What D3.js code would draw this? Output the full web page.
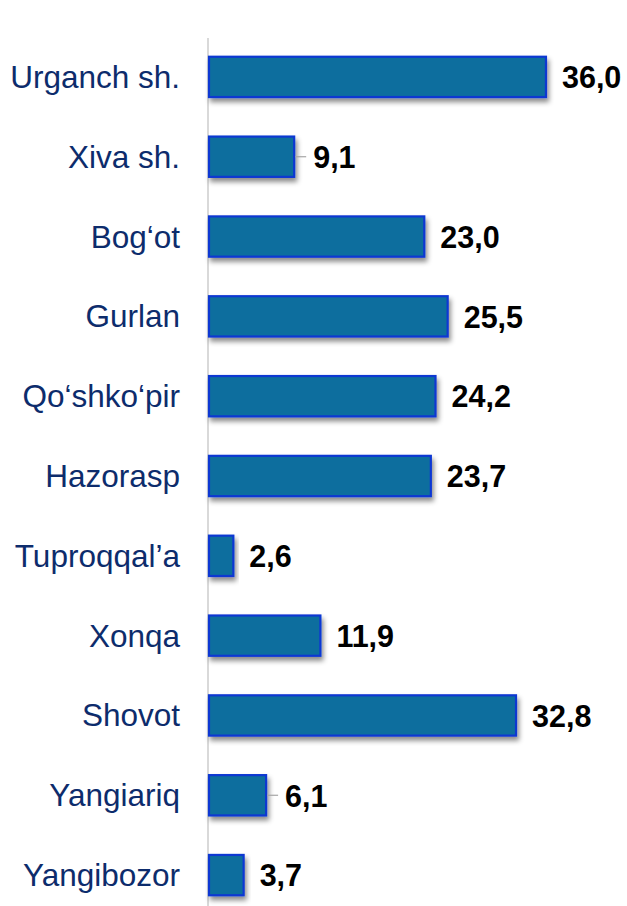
<!DOCTYPE html>
<html>
<head>
<meta charset="utf-8">
<script src="https://cdn.jsdelivr.net/npm/d3@7"></script>
<style>
  body { margin: 0; background: #fff; }
  svg { display: block; }
</style>
</head>
<body>
<script>
var width = 627,
    height = 906;

var districts = ["Urganch sh.", "Xiva sh.", "Bog\u2018ot", "Gurlan", "Qo\u2018shko\u2018pir", "Hazorasp",
                 "Tuproqqal\u2019a", "Xonqa", "Shovot", "Yangiariq", "Yangibozor"];
var values = [36.0, 9.1, 23.0, 25.5, 24.2, 23.7, 2.6, 11.9, 32.8, 6.1, 3.7];

// labels that excel pushed a bit and drew a leader line for
var leaders = ["Xiva sh.", "Yangiariq"];

var data = districts.map(function(d, i) { return {name: d, value: values[i]}; });

var x = d3.scaleLinear()
    .domain([0, 40])
    .range([209, 583.4]);

var y = d3.scaleBand()
    .domain(districts)
    .range([37, 915])
    .paddingInner(0.47)
    .paddingOuter(0.235);

var fmt = function(v) { return d3.format(".1f")(v).replace(".", ","); };

var svg = d3.select("body").append("svg")
    .attr("width", width)
    .attr("height", height);

var defs = svg.append("defs");
var shadow = defs.append("filter")
    .attr("id", "shadow")
    .attr("x", "-10%").attr("y", "-20%")
    .attr("width", "130%").attr("height", "160%");
shadow.append("feDropShadow")
    .attr("dx", 2).attr("dy", 4)
    .attr("stdDeviation", 2.5)
    .attr("flood-color", "#000")
    .attr("flood-opacity", 0.45);

// vertical axis line
svg.append("line")
    .attr("x1", x(0) - 1).attr("x2", x(0) - 1)
    .attr("y1", 38).attr("y2", height)
    .attr("stroke", "#d9d9d9")
    .attr("stroke-width", 2);

var row = svg.selectAll("g.row")
    .data(data)
  .enter().append("g")
    .attr("class", "row");

row.append("rect")
    .attr("x", x(0))
    .attr("y", function(d) { return y(d.name) + 1; })
    .attr("width", function(d) { return x(d.value) - x(0); })
    .attr("height", y.bandwidth() - 2)
    .attr("fill", "#0a6e9e")
    .attr("stroke", "#0d38d2")
    .attr("stroke-width", 2.2)
    .attr("filter", "url(#shadow)");

// category names
row.append("text")
    .attr("x", 180)
    .attr("y", function(d) { return y(d.name) + y.bandwidth() / 2; })
    .attr("dy", "0.35em")
    .attr("text-anchor", "end")
    .attr("font-family", "Liberation Sans, Arial, sans-serif")
    .attr("font-size", 31.5)
    .attr("fill", "#0d2c6c")
    .text(function(d) { return d.name; });

// leader lines
row.filter(function(d) { return leaders.indexOf(d.name) >= 0; })
  .append("line")
    .attr("x1", function(d) { return x(d.value) + 1; })
    .attr("x2", function(d) { return x(d.value) + 12; })
    .attr("y1", function(d) { return y(d.name) + y.bandwidth() / 2; })
    .attr("y2", function(d) { return y(d.name) + y.bandwidth() / 2; })
    .attr("stroke", "#a6a6a6")
    .attr("stroke-width", 1.2);

// value labels
row.append("text")
    .attr("x", function(d) { return x(d.value) + (leaders.indexOf(d.name) >= 0 ? 19 : 16); })
    .attr("y", function(d) { return y(d.name) + y.bandwidth() / 2; })
    .attr("dy", "0.37em")
    .attr("font-family", "Liberation Sans, Arial, sans-serif")
    .attr("font-size", 30.5)
    .attr("font-weight", "bold")
    .attr("fill", "#000")
    .text(function(d) { return fmt(d.value); });
</script>
</body>
</html>
